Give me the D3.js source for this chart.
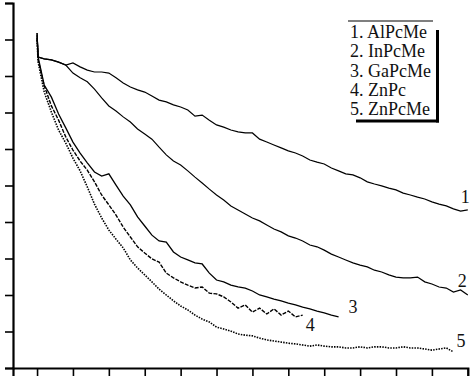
<!DOCTYPE html>
<html>
<head>
<meta charset="utf-8">
<script src="https://cdn.jsdelivr.net/npm/d3@7"></script>
<style>
  body { margin: 0; background: #fff; }
  text { font-family: "Liberation Serif", "Times New Roman", serif; }
</style>
</head>
<body>
<div id="chart"></div>
<script>
// time grid (x) shared by all curves
const times = [0, 0.3, 2, 4, 6, 8, 10, 12, 14, 16, 18, 20, 22, 24, 26, 28, 30, 32, 34, 36, 38, 40,
  42, 44, 46, 48, 50, 52, 54, 56, 58, 60, 62, 64, 66, 68, 70, 72, 74, 76, 78, 80,
  82, 84, 86, 88, 90, 92, 94, 96, 98, 100, 102, 104, 106, 108, 110, 112, 114, 116, 118, 120];

const names = ["1. AlPcMe", "2. InPcMe", "3. GaPcMe", "4. ZnPc", "5. ZnPcMe"];
const curveLabels = ["1", "2", "3", "4", "5"];

const alpcme = [91.8,85.2, 84.7,84.4,83.8,83.0,83.6,82.5,81.6,81.1,81.1,80.8,
  79.5,78.1,77.0,76.2,75.6,74.5,73.4,72.9,72.1,71.5, 70.7,69.0,69.3,67.9,66.6,66.0,65.2,64.7,64.4,64.4,
  62.7,61.9,61.1,60.3,59.5,58.9,58.1,57.0,56.4,55.9, 54.8,54.0,53.2,52.9,52.1,51.0,50.4,49.9,49.3,48.8,
  47.9,47.4,46.8,46.3,45.5,44.9,44.4,43.6,43.0,43.3];
const inpcme = [91.8,85.2, 84.7,84.4,83.8,83.0,80.8,79.5,78.4,76.4,74.0,71.8,
  70.4,68.8,67.4,65.5,64.1,62.7,60.5,58.4,56.7,55.6, 54.0,52.3,50.7,49.0,47.4,46.0,44.4,43.3,42.2,41.1,
  40.3,39.2,38.1,37.3,36.2,35.6,34.8,33.7,33.2,32.3, 31.2,30.4,29.6,28.8,28.2,27.7,26.8,26.3,25.5,24.9,
  24.7,24.7,24.9,23.6,23.0,22.2,21.9,20.8,21.4,20.0];
const gapcme = [91.2,85.2, 77.5,74.2,69.6,65.8,61.9,58.9,56.2,53.7,52.6,53.2,
  50.1,47.1,44.7,41.4,38.9,36.4,34.8,34.5,31.8,30.4, 29.6,28.8,28.5,26.0,24.1,23.6,22.7,22.2,21.9,21.1,
  20.0,19.5,18.9,18.4,17.8,17.3,16.7,16.2,15.6,15.1, 14.5,14.0];
const znpc = [90.4,84.4, 77.3,71.8,67.9,63.3,59.7,56.7,54.2,51.0,47.4,44.7,
  41.9,38.6,35.9,33.2,31.5,29.9,29.0,26.0,24.7,23.6, 22.7,21.9,22.2,20.5,20.3,19.5,18.1,16.4,17.3,15.3,
  16.4,14.8,16.2,14.5,15.6,14.0,14.5];
const znpcme = [89.9,83.8, 75.6,70.1,65.2,61.6,57.5,54.0,49.6,44.9,41.1,37.8,
  35.3,32.9,29.6,27.4,25.5,23.6,21.6,20.0,18.4,17.0, 15.9,14.5,13.4,12.6,11.2,10.7,10.1,9.3,9.0,8.8,
  8.2,7.7,7.4,7.1,6.8,6.6,6.3,6.0,6.3,6.0, 5.8,5.8,5.5,5.5,5.8,5.5,5.8,5.8,5.5,5.5,
  5.8,5.5,5.5,5.2,4.9,5.2,5.5,4.4];

const xTicks = [0, 10, 20, 30, 40, 50, 60, 70, 80, 90, 100, 110, 120];
const yTicks = [0, 10, 20, 30, 40, 50, 60, 70, 80, 90, 100];

const series = [alpcme, inpcme, gapcme, znpc, znpcme];
// line look + where the number sits next to the curve end
const dashes = [null, null, null, "4,1.3", "1.5,1.2"];
const widths = [1.2, 1.2, 1.3, 1.4, 1.6];
const labelOffset = [[-7, -7], [-10, -8], [10, -4], [3, 16], [3, -5]];

const W = 474, H = 376;

const svg = d3.select("#chart").append("svg")
    .attr("width", W)
    .attr("height", H);

const x = d3.scaleLinear().domain([-6.7, 120]).range([13, 467.8]);
const y = d3.scaleLinear().domain([0, 100]).range([368, 3]);

// axes, no labels in the original
const xAxis = svg.append("g")
    .attr("transform", `translate(0,${y(0)})`)
    .call(d3.axisBottom(x).tickValues(xTicks).tickFormat("").tickSizeOuter(0).tickSize(8));
xAxis.select(".domain").attr("stroke-width", 2.2);
xAxis.selectAll(".tick line").attr("stroke-width", 1.6);

const yAxis = svg.append("g")
    .attr("transform", `translate(${x.range()[0]},0)`)
    .call(d3.axisLeft(y).tickValues(yTicks).tickFormat("").tickSizeOuter(0).tickSize(8));
yAxis.select(".domain").attr("stroke-width", 2.2);
yAxis.selectAll(".tick line").attr("stroke-width", 1.6);

const line = d3.line()
    .x((d, i) => x(times[i]))
    .y(d => y(d));

series.forEach(function(vals, k){
    svg.append("path")
        .datum(vals)
        .attr("d", line)
        .attr("fill", "none")
        .attr("stroke", "#000")
        .attr("stroke-width", widths[k])
        .attr("stroke-dasharray", dashes[k]);

    const last = vals.length - 1;
    svg.append("text")
        .attr("x", x(times[last]) + labelOffset[k][0])
        .attr("y", y(vals[last]) + labelOffset[k][1])
        .attr("font-size", 18)
        .attr("fill", "#111")
        .text(curveLabels[k]);
});

// legend box with shadow on right / bottom
const lg = svg.append("g").attr("transform", "translate(348,21)");
lg.append("line").attr("x1", 0).attr("x2", 85).attr("y1", 0).attr("y2", 0)
    .attr("stroke", "#000").attr("stroke-width", 1.2);
lg.append("line").attr("x1", 89.5).attr("x2", 89.5).attr("y1", 9).attr("y2", 101.5)
    .attr("stroke", "#000").attr("stroke-width", 3);
lg.append("line").attr("x1", 8).attr("x2", 91).attr("y1", 100).attr("y2", 100)
    .attr("stroke", "#000").attr("stroke-width", 3);

lg.selectAll("text.leg")
  .data(names)
  .enter()
  .append("text")
    .attr("class", "leg")
    .attr("x", 2)
    .attr("y", (d, i) => 17 + i * 19.3)
    .attr("font-size", 18)
    .attr("fill", "#111")
    .text(d => d);
</script>
</body>
</html>
